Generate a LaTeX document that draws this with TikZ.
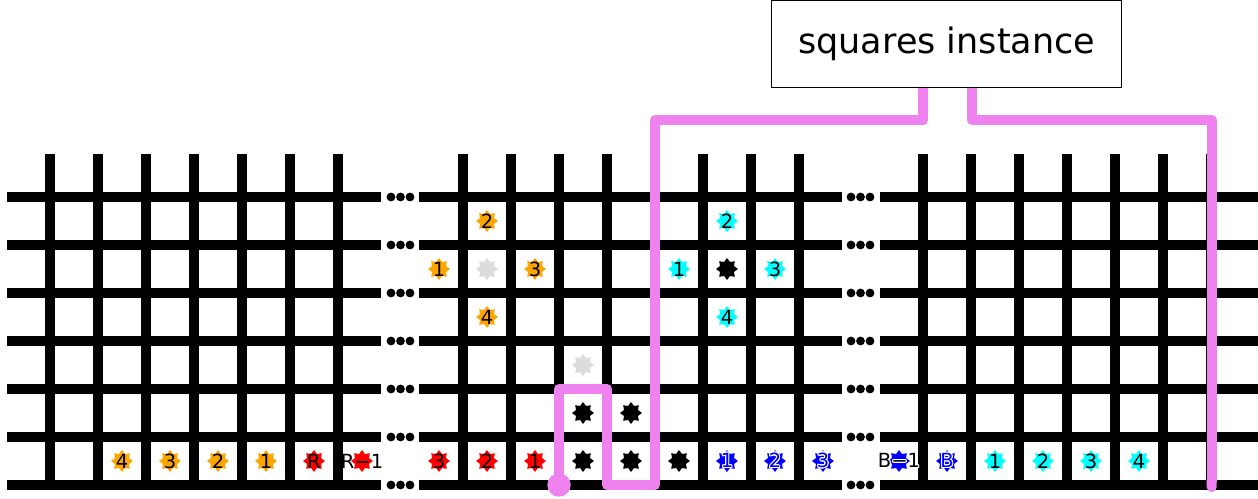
\documentclass[tikz,border=0pt]{standalone}
\usepackage{fontspec}
\setmainfont{DejaVu Sans}
\usepackage[copies]{contour}
\usetikzlibrary{shapes.geometric,arrows.meta}
\definecolor{tokorange}{HTML}{FFA500}
\definecolor{tokred}{HTML}{FF0000}
\definecolor{tokblue}{HTML}{0000FF}
\definecolor{tokcyan}{HTML}{00FFFF}
\definecolor{tokgray}{HTML}{DCDCDC}
\definecolor{pathpink}{HTML}{EE82EE}
\contourlength{1pt}
\newcommand{\bluetxt}[1]{\contour{white}{\textcolor{tokblue}{#1}}}
\newcommand{\halotxt}[1]{\contour{white}{#1}}

\begin{document}
\begin{tikzpicture}[x=1pt,y=-1pt,
  gridline/.style={line width=10pt},
  tok/.style={star,star points=8,star point ratio=1.45,minimum size=22pt,inner sep=0pt},
  toktext/.style={font=\fontsize{19.5}{22}\selectfont,inner sep=0pt},
  pinkline/.style={draw=pathpink,line width=10pt,line join=round}]
  \useasboundingbox (0,0) rectangle (1258,498);

  % grid: horizontal lines, dots between the blocks
  \foreach \y in {197,245,...,485} {
    \draw[gridline] (7,\y) -- (381,\y);
    \draw[gridline] (419,\y) -- (842,\y);
    \draw[gridline] (880,\y) -- (1258,\y);
    \foreach \d in {-9.5,0,9.5} {
      \fill (400.5+\d,\y) circle (4.4pt);
      \fill (860.5+\d,\y) circle (4.4pt);
    }
  }
  % grid: vertical lines of the three blocks
  \foreach \x in {50,98,...,338}    \draw[gridline] (\x,154) -- (\x,485);
  \foreach \x in {463,511,...,799}  \draw[gridline] (\x,154) -- (\x,485);
  \foreach \x in {923,971,...,1211} \draw[gridline] (\x,154) -- (\x,485);

  % tokens: bottom row
  \foreach \px/\py/\col/\txt [count=\i] in {
      122/461/tokorange/4, 170/461/tokorange/3, 218/461/tokorange/2, 266/461/tokorange/1,
      314/461/tokred/R, 362/461/tokred/R−1,
      439/461/tokred/3, 487/461/tokred/2, 535/461/tokred/1,
      583/461/black/{}, 631/461/black/{}, 679/461/black/{},
      727/461/tokblue/\bluetxt{1}, 775/461/tokblue/\bluetxt{2}, 823/461/tokblue/\bluetxt{3},
      899/461/tokblue/\halotxt{B−1}, 947/461/tokblue/\bluetxt{B},
      995/461/tokcyan/1, 1043/461/tokcyan/2, 1091/461/tokcyan/3, 1139/461/tokcyan/4} {
    \node[tok,fill=\col,label={[toktext]center:{\txt}}] (bot\i) at (\px,\py) {};
  }
  % tokens: upper rows
  \foreach \px/\py/\col/\txt [count=\i] in {
      583/413/black/{}, 631/413/black/{}, 583/365/tokgray/{},
      487/317/tokorange/4, 727/317/tokcyan/4,
      439/269/tokorange/1, 487/269/tokgray/{}, 535/269/tokorange/3,
      679/269/tokcyan/1, 727/269/black/{}, 775/269/tokcyan/3,
      487/221/tokorange/2, 727/221/tokcyan/2} {
    \node[tok,fill=\col,label={[toktext]center:{\txt}}] (up\i) at (\px,\py) {};
  }

  % instance box and its two paths
  \node[draw,fill=white,line width=1.2pt,minimum width=350pt,minimum height=86.6pt,
        font=\fontsize{35}{40}\selectfont] (inst) at (946.7,44) {squares instance};
  \coordinate (pdot) at (559,485);
  \draw[pinkline] (pdot) |- (607,389) |- (655,485) -- (655,120) -| ([xshift=-23.3pt]inst.south);
  \fill[pathpink] (pdot) circle (11.7pt);
  \draw[pinkline,-{Round Cap}] ([xshift=25pt]inst.south) |- (1211.7,120) -- (1211.7,492);
\end{tikzpicture}
\end{document}
